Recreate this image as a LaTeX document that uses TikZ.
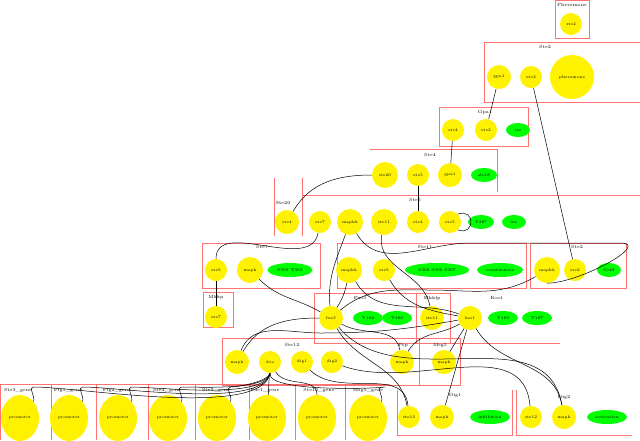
\documentclass[tikz,border=0pt]{standalone}
\usetikzlibrary{shapes.geometric}
\begin{document}
\begin{tikzpicture}[x=1pt,y=-1pt,
 yn/.style={circle,fill=yellow,inner sep=0pt,minimum size=22pt,font=\fontsize{4}{5}\selectfont},
 gn/.style={ellipse,fill=green,inner sep=0pt,minimum height=14pt,minimum width=30pt,font=\fontsize{4}{5}\selectfont},
 pn/.style={ellipse,fill=yellow,inner sep=0pt,minimum width=38pt,minimum height=46pt,font=\fontsize{4}{5}\selectfont},
 bx/.style={draw=red!55,line width=0.6pt},
 lb/.style={font=\fontsize{4.5}{5}\selectfont,inner sep=0pt},
 ed/.style={draw=black,line width=0.5pt}]
\useasboundingbox (0,0) rectangle (640,440);
% boxes
\draw[bx] (555,0) rectangle (589,38); \node[lb] (l1) at (572,5) {Pheromone};
\draw[bx] (484,42) -- (640,42) (484,42) -- (484,102) -- (640,102); \node[lb] (l2) at (545,47) {Ste2};
\draw[bx] (439,107) rectangle (528,146); \node[lb] (l3) at (485,112) {Gpa1};
\draw[bx] (370,149) -- (497,149) -- (497,192); \node[lb] (l4) at (430,155) {Ste4};
\draw[bx] (274,178) -- (274,236) (302,178) -- (302,236); \node[lb] (l5) at (283,203) {Ste20};
\draw[bx] (302,195) -- (640,195); \node[lb] (l6) at (415,200) {Ste5};
\draw[bx] (202,243) rectangle (320,288); \node[lb] (l7) at (262,247) {Ste7};
\draw[bx] (337,243) rectangle (526,288); \node[lb] (l8) at (425,247) {Ste11};
\draw[bx] (530,243) rectangle (626,288); \node[lb] (l9) at (577,247) {Ste2};
\draw[bx] (203,292) rectangle (233,327); \node[lb] (l10) at (216,297) {Mkkp};
\draw[bx] (314,293) rectangle (416,343); \node[lb] (l11) at (360,298) {Fus3};
\draw[bx] (416,293) rectangle (450,343); \node[lb] (l12) at (432,298) {Mkklp};
\draw[bx] (450,293) -- (450,343) -- (560,343); \node[lb] (l13) at (497,298) {Kss1};
\draw[bx] (222,338) rectangle (419,385); \node[lb] (l14) at (292,345) {Ste12};
\draw[bx] (419,338) rectangle (460,385); \node[lb] (l15) at (403,345) {Ptp};
\node[lb] (l16) at (440,345) {Msg5};
\draw[bx] (397,390) -- (397,435) -- (512,435) -- (512,390);
\node[lb] (l17) at (455,395) {Dig1};
\draw[bx] (516,390) -- (516,435) -- (632,435); \node[lb] (l18) at (564,397) {Dig2};
\foreach \x in {0,51,96,148,195,249,295,345} {\draw[bx] (\x,384) -- (\x,440);}
\draw[bx] (0,384) -- (390,384);
% top nodes
\node[yn] (p1) at (571,24) {ste2};
\node[yn,minimum size=24pt] (a1) at (499,77) {gpa1};
\node[yn] (a2) at (531,77) {ste2};
\node[yn,minimum size=44pt] (a3) at (572,77) {pheromone};
\node[yn] (b1) at (453,130) {ste4};
\node[yn] (b2) at (486,130) {ste2};
\node[gn,minimum width=24pt] (b3) at (518,130) {ste};
\node[yn,minimum size=26pt] (c1) at (385,175) {ste20};
\node[yn] (c2) at (418,175) {ste5};
\node[yn,minimum size=24pt] (c3) at (450,175) {gpa1};
\node[gn,minimum width=26pt] (c4) at (484,175) {ste18};
\node[yn,minimum size=24pt] (d0) at (287,222) {ste4};
\node[yn] (d1) at (320,222) {ste7};
\node[yn,minimum size=26pt] (d2) at (350,222) {mapkk};
\node[yn,minimum size=26pt] (d3) at (384,222) {ste11};
\node[yn] (d4) at (418,222) {ste4};
\node[yn] (d5) at (450,222) {ste5};
\node[gn,minimum width=26pt] (d6) at (481,222) {Y287};
\node[gn,minimum width=24pt] (d7) at (514,222) {ine};
\node[yn] (e1) at (216,270) {ste5};
\node[yn,minimum size=26pt] (e2) at (250,270) {mapk};
\node[gn,minimum width=45pt] (e3) at (290,270) {S359 T363};
\node[yn,minimum size=26pt] (f1) at (349,270) {mapkk};
\node[yn] (f2) at (384,270) {ste5};
\node[gn,minimum width=64pt] (f3) at (437,270) {S302 S306 S307};
\node[gn,minimum width=46pt] (f4) at (500,270) {constitutive};
\node[yn,minimum size=26pt] (g1) at (547,270) {mapkk};
\node[yn] (g2) at (575,270) {ste2};
\node[gn,minimum width=24pt] (g3) at (609,270) {S549};
\node[yn] (h1) at (216,317) {ste7};
\node[yn,minimum size=24pt] (h2) at (331,318) {fus3};
\node[gn] (h3) at (368,318) {Y182};
\node[gn] (h4) at (397,318) {T180};
\node[yn,minimum size=24pt] (h5) at (432,318) {ste11};
\node[yn,minimum size=24pt] (h6) at (470,318) {kss1};
\node[gn] (h7) at (503,318) {Y183};
\node[gn] (h8) at (537,318) {T187};
\node[yn,minimum size=24pt] (i1) at (237,362) {mapk};
\node[yn] (i2) at (270,362) {dca};
\node[yn] (i3) at (302,362) {dig1};
\node[yn] (i4) at (332,362) {dig2};
\node[yn,minimum size=24pt] (i5) at (402,362) {mapk};
\node[yn,minimum size=24pt] (i6) at (444,362) {mapk};
\node[yn] (j1) at (409,417) {ste12};
\node[yn,minimum size=24pt] (j2) at (442,417) {mapk};
\node[gn,minimum width=40pt] (j3) at (490,417) {inhibition};
\node[yn] (k1) at (531,417) {ste12};
\node[yn,minimum size=24pt] (k2) at (564,417) {mapk};
\node[gn,minimum width=40pt] (k3) at (607,417) {activation};
% genes
\foreach \n/\x/\lx/\tt in {q1/20/18/Ste3\_gene,q2/69/68/Fig1\_gene,q3/118/117/Fig2\_gene,q4/168/167/Ste4\_gene,q5/217/216/Ste2\_gene,q6/267/265/Fus1\_gene,q7/317/319/Ste12\_gene,q8/368/368/Msg5\_gene}{
 \node[pn] (\n) at (\x,418) {promoter};
 \node[lb] (t\n) at (\lx,390) {\tt};}
% edges
\draw[ed] (a1) -- (b2);
\draw[ed] (a2) -- (g2);
\draw[ed] (b1) -- (c3);
\draw[ed] (c1) to[out=180,in=60] (d0);
\draw[ed] (c2) -- (d4);
\draw[ed] (d5.north east) to[out=20,in=-20,looseness=3] (d5.south east);
\draw[ed] (d1) to[out=-100,in=90] (e1);
\draw[ed] (d2) to[out=-110,in=95] (h2);
\draw[ed] (d2) to[out=-60,in=180] (470,243) to[out=0,in=180] (620,243) to[out=0,in=0] (g1.south);
\draw[ed] (e1) -- (h1);
\draw[ed] (e2) to[out=-45,in=150] (h2);
\draw[ed] (f1) to[out=-100,in=60] (h2);
\draw[ed] (f1) to[out=-60,in=160] (h6);
\draw[ed] (f2) to[out=-60,in=170] (h6);
\draw[ed] (g1) to[out=-150,in=0] (430,290) to[out=180,in=40] (h2);
\draw[ed] (d3) to[out=-100,in=100] (h5);
\draw[ed] (h2) to[out=180,in=60] (i1);
\draw[ed] (h2) to[out=-30,in=100] (i5);
\draw[ed] (h2) to[out=-60,in=100] (j1);
\draw[ed] (h2) to[out=-50,in=100] (k2);
\draw[ed] (h6) to[out=-150,in=60] (i5);
\draw[ed] (h6) to[out=-120,in=60] (i6);
\draw[ed] (h6) -- (j2);
\draw[ed] (h6) to[out=-60,in=100] (k2);
\draw[ed] (h6) to[out=-170,in=0] (320,333) to[out=180,in=70] (i1);
\draw[ed] (i3) to[out=-45,in=95] (j1);
\draw[ed] (i4) to[out=-20,in=95] (k1);
\foreach \n in {q1,q2,q3,q4,q5,q8} {\draw[ed] (i2.south) to[out=-100,in=0,looseness=0.5] ([yshift=-3pt]\n.north east|-0,384) to[out=180,in=70] (\n.north east);}
\draw[ed] (i2) -- (q6);
\draw[ed] (i2) to[out=-60,in=90] (q7.north);
\end{tikzpicture}
\end{document}
